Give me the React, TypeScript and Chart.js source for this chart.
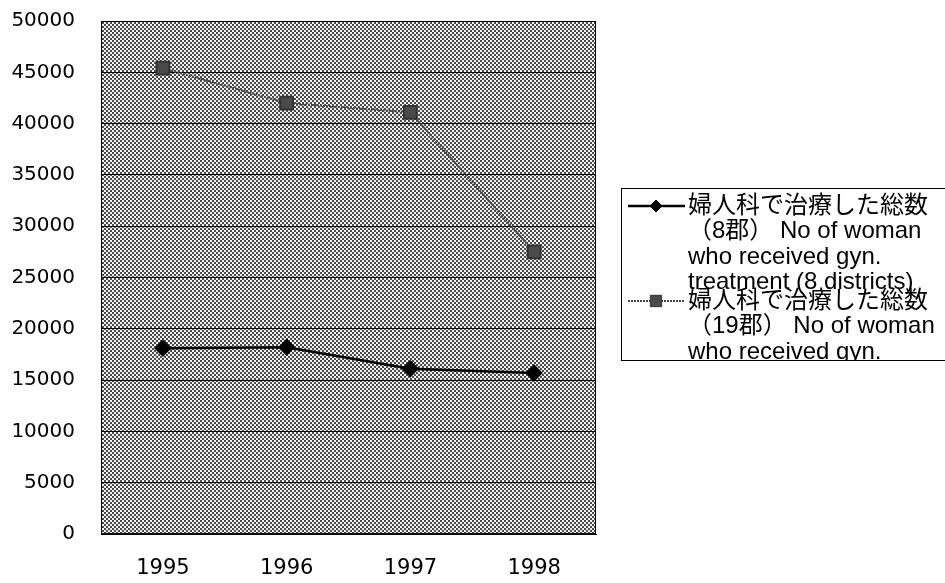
import React, { useEffect, useRef } from "react";
import { Chart, registerables } from "chart.js";

Chart.register(...registerables);

const years = ["1995", "1996", "1997", "1998"];
const series8 = [18100, 18200, 16100, 15700];
const series19 = [45400, 42000, 41100, 27500];
const yMin = 0;
const yMax = 50000;
const yStep = 5000;
const legend8Lines = ["婦人科で治療した総数", "（8郡） No of woman", "who received gyn.", "treatment (8 districts)"];
const legend19Lines = ["婦人科で治療した総数", "（19郡） No of woman", "who received gyn.", "treatment (19 districts)"];

const FONT = '"DejaVu Sans", "Noto Sans CJK JP", sans-serif';
const LEGEND_FONT = '"Liberation Sans", "Noto Sans CJK JP", sans-serif';

function makePattern(ctx: CanvasRenderingContext2D) {
  const c = document.createElement("canvas");
  c.width = 4;
  c.height = 4;
  const p = c.getContext("2d")!;
  p.fillStyle = "#f2f2f2";
  p.fillRect(0, 0, 4, 4);
  p.fillStyle = "#4a4a4a";
  p.fillRect(0, 0, 2, 2);
  p.fillRect(2, 2, 2, 2);
  return ctx.createPattern(c, "repeat");
}

const plotBg = {
  id: "plotBg",
  beforeDraw(chart: any) {
    const { ctx, chartArea: a } = chart;
    ctx.save();
    const pat = makePattern(ctx);
    ctx.fillStyle = pat || "#999";
    ctx.fillRect(a.left, a.top, a.right - a.left, a.bottom - a.top);
    ctx.restore();
  },
  afterDatasetsDraw(chart: any) {
    const { ctx, chartArea: a } = chart;
    ctx.save();
    ctx.strokeStyle = "#000";
    ctx.lineWidth = 1;
    ctx.strokeRect(Math.round(a.left) + 0.5, Math.round(a.top) + 0.5, Math.round(a.right - a.left) - 1, Math.round(a.bottom - a.top) - 1);
    ctx.restore();
  },
};

const boxLegend = {
  id: "boxLegend",
  afterDraw(chart: any) {
    const { ctx } = chart;
    const left = 621.5;
    const top = 188.5;
    const right = 960;
    const bottom = 360.5;
    const textX = 688;
    const lh = 25.5;
    const entries = [
      { lines: legend8Lines, y0: 206, ds: chart.data.datasets[0] },
      { lines: legend19Lines, y0: 301, ds: chart.data.datasets[1] },
    ];
    ctx.save();
    ctx.fillStyle = "#fff";
    ctx.fillRect(left, top, right - left, bottom - top);
    ctx.beginPath();
    ctx.rect(left, top, right - left, bottom - top);
    ctx.clip();
    ctx.font = "24px " + LEGEND_FONT;
    ctx.textBaseline = "middle";
    ctx.textAlign = "left";
    entries.forEach((e) => {
      const y = e.y0;
      ctx.save();
      ctx.strokeStyle = e.ds.borderColor;
      ctx.lineWidth = e.ds.borderWidth;
      ctx.setLineDash(e.ds.borderDash || []);
      ctx.beginPath();
      ctx.moveTo(628, y);
      ctx.lineTo(685, y);
      ctx.stroke();
      ctx.setLineDash([]);
      ctx.fillStyle = e.ds.pointBackgroundColor;
      ctx.strokeStyle = e.ds.pointBorderColor;
      ctx.lineWidth = 1;
      const r = e.ds.pointRadius - 1;
      ctx.beginPath();
      if (e.ds.pointStyle === "rectRot") {
        ctx.moveTo(656, y - r);
        ctx.lineTo(656 + r, y);
        ctx.lineTo(656, y + r);
        ctx.lineTo(656 - r, y);
        ctx.closePath();
      } else {
        const s = r * Math.SQRT1_2;
        ctx.rect(656 - s, y - s, 2 * s, 2 * s);
      }
      ctx.fill();
      ctx.stroke();
      ctx.restore();
      ctx.fillStyle = "#000";
      e.lines.forEach((t, i) => ctx.fillText(t, textX, y + i * lh));
    });
    ctx.restore();
    ctx.save();
    ctx.strokeStyle = "#000";
    ctx.lineWidth = 1;
    ctx.strokeRect(left, top, right - left, bottom - top);
    ctx.restore();
  },
};

export default function App() {
  const ref = useRef<HTMLCanvasElement>(null);
  useEffect(() => {
    document.body.style.margin = "0";
    const chart = new Chart(ref.current!, {
      type: "line",
      data: {
        labels: years,
        datasets: [
          {
            label: legend8Lines.join(" "),
            data: series8,
            borderColor: "#000",
            borderWidth: 2.5,
            pointStyle: "rectRot",
            pointRadius: 7,
            pointBackgroundColor: "#000",
            pointBorderColor: "#000",
            tension: 0,
          },
          {
            label: legend19Lines.join(" "),
            data: series19,
            borderColor: "#444",
            borderWidth: 2,
            borderDash: [2, 1],
            pointStyle: "rect",
            pointRadius: 9,
            pointBackgroundColor: "#4a4a4a",
            pointBorderColor: "#333",
            tension: 0,
          },
        ],
      },
      options: {
        animation: false,
        responsive: false,
        maintainAspectRatio: false,
        layout: { padding: { top: 21, right: 349, left: 0, bottom: 0 } },
        plugins: { legend: { display: false }, tooltip: { enabled: false }, title: { display: false } },
        scales: {
          x: {
            offset: true,
            grid: { display: false },
            border: { display: true, color: "#000" },
            ticks: { color: "#000", font: { family: FONT, size: 21 }, padding: 14 },
            afterFit: (s: any) => {
              s.height = 49;
            },
          },
          y: {
            min: yMin,
            max: yMax,
            grid: { color: "#000", drawTicks: false, lineWidth: 1 },
            border: { display: true, color: "#000" },
            ticks: {
              stepSize: yStep,
              color: "#000",
              font: { family: FONT, size: 20 },
              padding: 26,
              callback: (v: any) => String(v),
            },
            afterFit: (s: any) => {
              s.width = 101;
              s.paddingTop = 0;
              s.paddingBottom = 0;
            },
          },
        },
      },
      plugins: [plotBg, boxLegend],
    } as any);
    return () => chart.destroy();
  }, []);
  return (
    <div style={{ width: 945, height: 583 }}>
      <canvas ref={ref} width={945} height={583} />
    </div>
  );
}
